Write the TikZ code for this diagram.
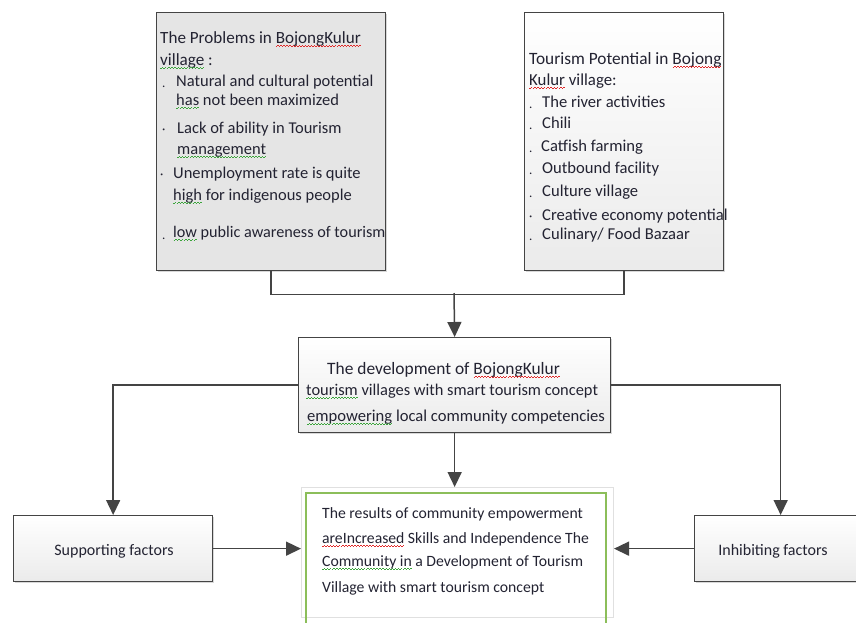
\documentclass[tikz,border=0pt]{standalone}
\usepackage{fontspec}
\setmainfont{Carlito}
\usetikzlibrary{arrows.meta,shadows}
\definecolor{txt}{RGB}{35,35,50}
\definecolor{ln}{RGB}{68,68,68}
\definecolor{sqr}{RGB}{225,40,40}
\definecolor{sqg}{RGB}{60,165,60}
\definecolor{grn}{RGB}{140,190,90}
\newcommand\wavy[2]{\setbox0\hbox{#2}\rlap{\copy0}\textcolor{#1}{\xleaders\hbox{\rule[-3.6pt]{1.5pt}{0.7pt}\rule[-2.6pt]{1.5pt}{0.7pt}}\hskip\wd0}}
\newcommand\rsq[1]{\wavy{sqr}{#1}}
\newcommand\gsq[1]{\wavy{sqg}{#1}}
\tikzset{
  fs/.style={font=\fontsize{#1}{19}\selectfont},
  tx/.style={anchor=base west, inner sep=0pt, text=txt, fs=16},
  bul/.style={anchor=base west, inner sep=0pt, text=txt, font=\fontsize{13}{14}\selectfont},
  boxbase/.style={draw=ln, line width=1.3pt, anchor=north west, inner sep=0pt,
    drop shadow={shadow xshift=1.5pt, shadow yshift=-1.5pt, opacity=0.3}},
  boxgray/.style={boxbase, fill=black!10},
  boxgrad/.style={boxbase, top color=white, bottom color=black!8},
  arr/.style={draw=ln, line width=1.5pt, -{Triangle[width=14pt,length=15pt]}},
  conn/.style={draw=ln, line width=1.5pt}
}
\begin{document}
\begin{tikzpicture}[x=1pt,y=-1pt]
\useasboundingbox (0,0) rectangle (856,622);
\clip (0,0) rectangle (856,622);
\fill[white] (0,0) rectangle (856,622);
% boxes
\node[boxgray, minimum width=229, minimum height=258] (prob) at (156,12) {};
\node[boxgrad, minimum width=199, minimum height=258] (tour) at (524,12) {};
\node[boxgrad, minimum width=312, minimum height=95] (dev) at (298,337) {};
\node[boxgrad, minimum width=199, minimum height=66] (sup) at (13,515) {};
\node[boxgrad, minimum width=172, minimum height=66] (inh) at (694,515) {};
\node[draw=black!12, line width=1pt, fill=white, anchor=north west, minimum width=312, minimum height=130, inner sep=0pt] (res) at (301,487) {};
\draw[grn, line width=1.2pt] (306,630) -- (306,493) -- (606,493) -- (606,630);
% problems text
\node[tx, fs=17.1] (p1) at (160,43) {The Problems in \rsq{BojongKulur}};
\node[tx, fs=17.1] (p2) at (160,65) {\gsq{village} :};
\node[bul] (pb1) at (162,87) {.};
\node[tx, fs=16.5] (p3) at (176,86) {Natural and cultural potential};
\node[tx, fs=16.5] (p4) at (176,105) {\gsq{has} not been maximized};
\node[bul] (pb2) at (162,133) {\textperiodcentered};
\node[tx, fs=16.5] (p5) at (177,133) {Lack of ability in Tourism};
\node[tx, fs=16.5] (p6) at (177,154) {\gsq{management}};
\node[bul] (pb3) at (160,178) {\textperiodcentered};
\node[tx, fs=16.5] (p7) at (173,178) {Unemployment rate is quite};
\node[tx, fs=16.5] (p8) at (173,200) {\gsq{high} for indigenous people};
\node[bul] (pb4) at (162,239) {.};
\node[tx, fs=16.2] (p9) at (173,237) {\gsq{low} public awareness of tourism};
% tourism text
\node[tx, fs=17.3] (t1) at (529,64) {Tourism Potential in \rsq{Bojong}};
\node[tx, fs=16.8] (t2) at (529,85) {\rsq{Kulur} village:};
\node[bul] (tb1) at (529,108) {.};
\node[tx, fs=16.6] (t3) at (542,107) {The river activities};
\node[bul] (tb2) at (529,129) {.};
\node[tx, fs=16.6] (t4) at (542,128) {Chili};
\node[bul] (tb3) at (529,152) {.};
\node[tx, fs=16.6] (t5) at (541,151) {Catfish farming};
\node[bul] (tb4) at (529,174) {.};
\node[tx, fs=16.6] (t6) at (542,173) {Outbound facility};
\node[bul] (tb5) at (529,197) {.};
\node[tx, fs=16.6] (t7) at (542,196) {Culture village};
\node[bul] (tb6) at (529,220) {\textperiodcentered};
\node[tx, fs=16.6] (t8) at (542,220) {Creative economy potential};
\node[bul] (tb7) at (529,240) {.};
\node[tx, fs=16.6] (t9) at (542,239) {Culinary/ Food Bazaar};
% development text
\node[tx, fs=17.4] (d1) at (327,374) {The development of \rsq{BojongKulur}};
\node[tx, fs=16.4] (d2) at (306,395) {\gsq{tourism} villages with smart tourism concept};
\node[tx, fs=16.6] (d3) at (307,421) {\gsq{empowering} local community competencies};
% result text
\node[tx, fs=15.7] (r1) at (322,518) {The results of community empowerment};
\node[tx, fs=15.7] (r2) at (322,543) {\rsq{areIncreased} Skills and Independence The};
\node[tx, fs=15.7] (r3) at (322,566) {\gsq{Community in} a Development of Tourism};
\node[tx, fs=15.7] (r4) at (322,592) {Village with smart tourism concept};
% factors
\node[tx, anchor=center] (sl) at (114,551) {Supporting factors};
\node[tx, anchor=center] (il) at (773,551) {Inhibiting factors};
% connectors
\draw[conn] (prob.south) -- ++(0,23) -| (tour.south);
\coordinate (jm) at (454,293);
\draw[arr] (jm) -- (dev.north);
\draw[arr] (dev.south) -- (dev.south |- res.north);
\draw[arr] (dev.west) -| (sup.north);
\draw[arr] (dev.east) -| (inh.north);
\draw[arr] (sup.east) -- (sup.east -| res.west);
\draw[arr] (inh.west) -- (inh.west -| res.east);
\end{tikzpicture}
\end{document}
